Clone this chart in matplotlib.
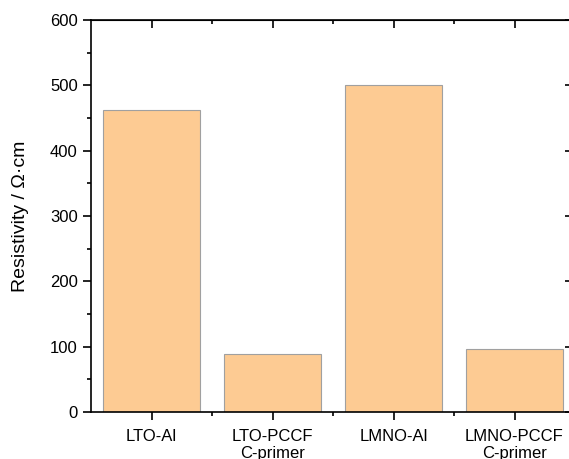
import numpy as np
import matplotlib
matplotlib.use("Agg")
from matplotlib import pyplot as plt
from matplotlib.ticker import MultipleLocator, FixedLocator

plt.rcParams['font.family'] = ['Liberation Sans', 'DejaVu Sans']

# datos
muestras = ["LTO-Al", "LTO-PCCF\nC-primer", "LMNO-Al", "LMNO-PCCF\nC-primer"]
resistividad = [462, 89, 500, 97]

fig = plt.figure(figsize=(5.69, 4.59), dpi=100)
ax = fig.add_axes([91/569, 47/459, 484/569, 392/459])

x = np.arange(1, len(muestras) + 1)
ax.bar(x, resistividad, width=0.8, color="#fdcb93", edgecolor="#a0a0a0", linewidth=0.8)

ax.set_xlim(0.5, 4.5)
ax.set_ylim(0, 600)
ax.set_xticks(x)
ax.set_xticklabels(muestras, fontsize=12, linespacing=1.2)
ax.xaxis.set_minor_locator(FixedLocator([1.5, 2.5, 3.5]))
ax.yaxis.set_major_locator(MultipleLocator(100))
ax.yaxis.set_minor_locator(MultipleLocator(50))
ax.tick_params(axis='y', which='major', labelsize=12, length=6, width=1.2, direction='out')
ax.tick_params(axis='y', which='minor', length=3, width=1.2, direction='out')
ax.tick_params(axis='x', which='major', length=6, width=1.2, direction='out', pad=6)
ax.tick_params(axis='x', which='minor', length=3, width=1.2, direction='out')
ax.set_ylabel("Resistivity / Ω·cm", fontsize=14, labelpad=15)

for s in ax.spines.values():
    s.set_linewidth(1.2)

# ticks del borde superior y derecho hacia adentro
ax2 = ax.secondary_xaxis('top')
ax2.set_xticks(x)
ax2.set_xticklabels([])
ax2.xaxis.set_minor_locator(FixedLocator([1.5, 2.5, 3.5]))
ax2.tick_params(which='major', direction='in', length=6, width=1.2)
ax2.tick_params(which='minor', direction='in', length=3, width=1.2)
ax3 = ax.secondary_yaxis('right')
ax3.yaxis.set_major_locator(MultipleLocator(100))
ax3.yaxis.set_minor_locator(MultipleLocator(50))
ax3.set_yticklabels([])
ax3.tick_params(which='major', direction='in', length=7, width=1.2)
ax3.tick_params(which='minor', direction='in', length=3, width=1.2)

fig.savefig("out.png", dpi=100)
